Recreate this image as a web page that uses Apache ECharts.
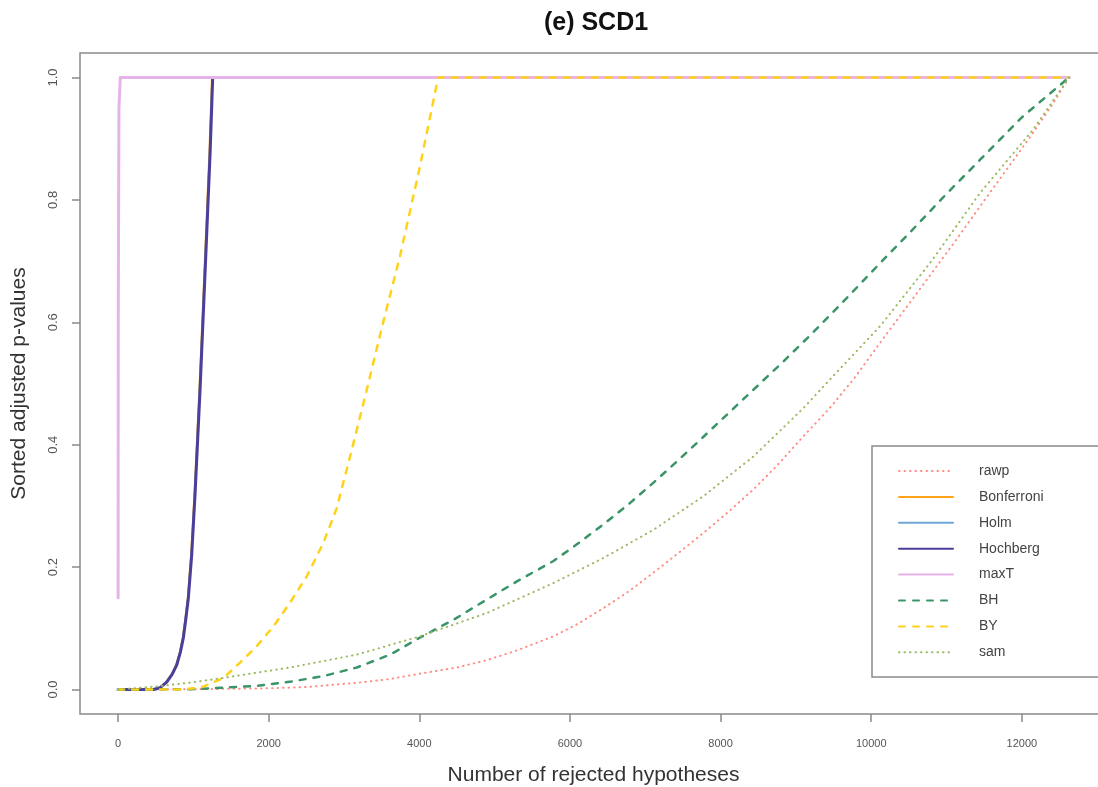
<!DOCTYPE html>
<html><head><meta charset="utf-8">
<script src="https://cdn.jsdelivr.net/npm/echarts@6/dist/echarts.min.js"></script>
<style>html,body{margin:0;padding:0;background:#fff}#c{width:1098px;height:787px}</style>
</head><body><div id="c"></div>
<script>
const xTicks = [0, 2000, 4000, 6000, 8000, 10000, 12000];
const yTicks = [0, 0.2, 0.4, 0.6, 0.8, 1.0];
const seriesNames = ['rawp', 'Bonferroni', 'Holm', 'Hochberg', 'maxT', 'BH', 'BY', 'sam'];

const rawp = [[1,0],[1000,0.0005],[2000,0.002],[2500,0.004],[3170,0.011],[3600,0.017],[4011,0.026],[4500,0.036],[4896,0.048],[5300,0.064],[5781,0.087],[6100,0.107],[6445,0.133],[6800,0.162],[7109,0.191],[7450,0.224],[7773,0.256],[8100,0.29],[8437,0.327],[8750,0.366],[9101,0.414],[9450,0.46],[9765,0.507],[10120,0.567],[10500,0.63],[10800,0.68],[11100,0.73],[11448,0.79],[11800,0.85],[12151,0.91],[12400,0.955],[12625,1.0]];
const bonferroni = [[1,0],[460,0],[552,0.003],[638,0.012],[712,0.025],[771,0.04],[822,0.062],[860,0.085],[892,0.115],[926,0.15],[970,0.22],[1015,0.32],[1080,0.49],[1146,0.68],[1212,0.875],[1247,1.0],[12625,1.0]];
const holm = [[1,0],[465,0],[556,0.003],[642,0.012],[716,0.025],[775,0.04],[826,0.062],[864,0.085],[896,0.115],[930,0.15],[974,0.22],[1019,0.32],[1085,0.49],[1151,0.68],[1218,0.875],[1252,1.0],[12625,1.0]];
const hochberg = [[1,0],[470,0],[560,0.003],[646,0.012],[720,0.025],[779,0.04],[830,0.062],[868,0.085],[900,0.115],[934,0.15],[978,0.22],[1023,0.32],[1089,0.49],[1155,0.68],[1222,0.875],[1257,1.0],[12625,1.0]];
const maxT = [[1,0.15],[3,0.6],[12,0.95],[30,1.0],[12625,1.0]];
const bh = [[1,0],[500,0],[956,0.0005],[1400,0.003],[1842,0.006],[2300,0.013],[2727,0.022],[3170,0.036],[3612,0.057],[4011,0.085],[4454,0.114],[4896,0.147],[5300,0.177],[5781,0.21],[6100,0.238],[6445,0.27],[6800,0.305],[7109,0.338],[7450,0.376],[7773,0.413],[8100,0.451],[8437,0.49],[8791,0.531],[9200,0.58],[9600,0.63],[10120,0.697],[10500,0.745],[11000,0.81],[11448,0.866],[12000,0.935],[12625,1.0]];
const by = [[1,0],[800,0],[1100,0.003],[1400,0.019],[1620,0.044],[1842,0.071],[2063,0.103],[2284,0.142],[2506,0.185],[2727,0.24],[2900,0.295],[3100,0.39],[3303,0.49],[3500,0.59],[3745,0.709],[4000,0.85],[4150,0.94],[4250,1.0],[12625,1.0]];
const sam = [[1,0],[513,0.005],[1000,0.012],[1398,0.019],[2284,0.036],[3170,0.057],[4011,0.087],[4896,0.125],[5781,0.174],[6445,0.215],[7109,0.261],[7773,0.316],[8437,0.381],[8791,0.423],[9101,0.46],[9455,0.507],[10120,0.594],[10800,0.7],[11448,0.812],[12151,0.915],[12625,1.0]];

const seriesData = [rawp, bonferroni, holm, hochberg, maxT, bh, by, sam];
const colors = ['#ff8c80', '#ffa31a', '#6fa6d6', '#4a3f9a', '#e6b3e8', '#3a9468', '#ffd21a', '#9cba62'];
const widths = [2, 2, 2, 3, 3, 2.5, 2.5, 2];
const dashes = [[0.5, 5], 'solid', 'solid', 'solid', 'solid', [6, 8], [6, 8], [0.5, 5]];

const FONT = 'Liberation Sans, Arial, sans-serif';
const chart = echarts.init(document.getElementById('c'), null, {renderer: 'canvas'});

const series = seriesNames.map((n, i) => ({
  name: n,
  type: 'line',
  data: seriesData[i],
  showSymbol: false,
  symbol: 'none',
  smooth: false,
  clip: true,
  animation: false,
  lineStyle: {color: colors[i], width: widths[i], type: dashes[i], cap: 'round', join: 'round'},
  itemStyle: {color: colors[i]},
  z: 2 + i
}));

chart.setOption({
  animation: false,
  backgroundColor: '#fff',
  title: {
    text: '(e) SCD1', left: 591, top: 6, textAlign: 'center',
    textStyle: {fontFamily: FONT, fontWeight: 'bold', fontSize: 25, color: '#111'}
  },
  grid: {left: 80, top: 53, width: 1027, height: 661, show: true, borderColor: '#8a8a8a', borderWidth: 1.5, backgroundColor: 'transparent', containLabel: false, outerBoundsMode: 'none'},
  xAxis: {
    type: 'value', min: -505, max: 13130,
    name: 'Number of rejected hypotheses', nameLocation: 'middle', nameGap: 51,
    nameTextStyle: {fontFamily: FONT, fontSize: 21, color: '#333'},
    axisLine: {show: false, onZero: false},
    axisTick: {show: true, customValues: xTicks, length: 8, lineStyle: {color: '#8a8a8a', width: 1.5}},
    axisLabel: {customValues: xTicks, margin: 24, fontFamily: FONT, fontSize: 11, color: '#555', formatter: v => String(v)},
    splitLine: {show: false}
  },
  yAxis: {
    type: 'value', min: -0.04, max: 1.04,
    name: 'Sorted adjusted p-values', nameLocation: 'middle', nameGap: 50, nameRotate: 90,
    nameTextStyle: {fontFamily: FONT, fontSize: 21, color: '#333'},
    axisLine: {show: false, onZero: false},
    axisTick: {show: true, customValues: yTicks, length: 8, lineStyle: {color: '#8a8a8a', width: 1.5}},
    axisLabel: {customValues: yTicks, rotate: 90, margin: 20, fontFamily: FONT, fontSize: 13, color: '#555', formatter: v => v.toFixed(1)},
    splitLine: {show: false}
  },
  legend: {
    data: seriesNames, orient: 'vertical', left: 898, top: 464,
    itemWidth: 54, itemHeight: 14, itemGap: 11.9, padding: 0,
    itemStyle: {opacity: 0, borderWidth: 0},
    textStyle: {fontFamily: FONT, fontSize: 14, color: '#444', padding: [0, 0, 0, 21]},
    selectedMode: false
  },
  graphic: [{
    type: 'rect', shape: {x: 872, y: 446, width: 240, height: 231},
    style: {fill: 'none', stroke: '#8a8a8a', lineWidth: 1.5}, z: 100, silent: true
  }],
  series: series
});
</script></body></html>
